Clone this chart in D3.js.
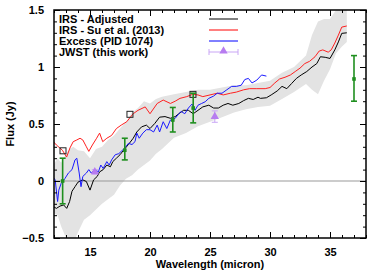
<!DOCTYPE html>
<html>
<head>
<meta charset="utf-8">
<script src="https://cdn.jsdelivr.net/npm/d3@7"></script>
<style>
  body { margin: 0; background: #fff; }
  svg text { font-family: "Liberation Sans", Arial, sans-serif; font-weight: bold; }
</style>
</head>
<body>
<svg id="canvas"></svg>
<script>
// IRS - Su et al. (2013)
const suW = [11.95, 12.2, 12.7, 13.05, 13.33, 13.6, 13.9, 14.17, 14.4, 14.7, 14.9, 15.2, 15.55, 15.8, 16.06, 16.4, 16.8, 17.2, 17.6, 18.06, 18.6, 19.0, 19.6, 20.0, 20.6, 21.1, 21.7, 22.1, 22.5, 23.06, 23.55, 24.0, 24.4, 25.0, 25.6, 26.1, 26.7, 27.2, 27.8, 28.3, 28.9, 29.6, 30.0, 30.4, 30.8, 31.25, 31.7, 32.1, 32.5, 32.9, 33.3, 33.75, 34.1, 34.4, 34.85, 35.1, 35.4, 35.7, 35.98, 36.4]
const suF = [0.345, 0.316, 0.27, 0.21, 0.29, 0.345, 0.36, 0.375, 0.36, 0.30, 0.26, 0.316, 0.375, 0.42, 0.345, 0.375, 0.40, 0.46, 0.49, 0.52, 0.59, 0.62, 0.65, 0.59, 0.68, 0.71, 0.68, 0.70, 0.725, 0.74, 0.76, 0.755, 0.74, 0.755, 0.77, 0.755, 0.77, 0.78, 0.80, 0.81, 0.81, 0.81, 0.82, 0.86, 0.895, 0.91, 0.93, 0.96, 0.99, 1.03, 1.05, 1.09, 1.14, 1.15, 1.13, 1.15, 1.21, 1.28, 1.35, 1.36]

// IRS - Adjusted
const adjW = [11.95, 12.2, 12.5, 12.8, 13.06, 13.3, 13.5, 13.75, 14.0, 14.4, 14.7, 15.0, 15.3, 15.6, 15.8, 16.1, 16.4, 16.7, 16.9, 17.2, 17.5, 17.8, 18.2, 18.6, 18.9, 19.3, 19.7, 20.0, 20.4, 20.8, 21.25, 21.7, 22.1, 22.4, 22.8, 23.2, 23.6, 24.0, 24.4, 24.9, 25.3, 25.7, 26.1, 26.5, 26.9, 27.4, 27.8, 28.2, 28.6, 29.0, 29.2, 29.7, 30.1, 30.6, 31.0, 31.4, 31.8, 32.2, 32.6, 33.06, 33.5, 33.9, 34.2, 34.6, 35.0, 35.4, 35.7, 35.98, 36.4]
const adjF = [-0.225, -0.24, -0.22, -0.21, -0.24, -0.18, -0.09, -0.05, -0.01, 0.01, -0.005, -0.08, 0.01, 0.04, 0.08, 0.10, 0.14, 0.125, 0.17, 0.20, 0.23, 0.27, 0.32, 0.375, 0.43, 0.475, 0.49, 0.46, 0.505, 0.56, 0.565, 0.55, 0.565, 0.59, 0.62, 0.62, 0.59, 0.62, 0.65, 0.665, 0.64, 0.64, 0.665, 0.68, 0.665, 0.68, 0.705, 0.725, 0.715, 0.735, 0.725, 0.73, 0.755, 0.79, 0.83, 0.81, 0.855, 0.90, 0.93, 0.96, 1.0, 1.03, 1.09, 1.085, 1.075, 1.15, 1.22, 1.295, 1.30]

// Excess (PID 1074)
const excW = [11.95, 12.1, 12.3, 12.4, 12.6, 12.9, 13.2, 13.5, 13.75, 13.9, 14.1, 14.25, 14.4, 14.7, 14.9, 15.1, 15.4, 15.7, 15.9, 16.1, 16.4, 16.6, 16.8, 17.1, 17.4, 17.6, 17.9, 18.2, 18.5, 18.75, 18.9, 19.1, 19.4, 19.7, 20.0, 20.3, 20.6, 20.8, 21.1, 21.4, 21.7, 22.1, 22.4, 22.6, 22.9, 23.2, 23.5, 23.75, 24.0, 24.3, 24.6, 24.9, 25.3, 25.6, 26.0, 26.4, 26.8, 27.2, 27.6, 27.9, 28.2, 28.5, 28.9, 29.3, 29.7]
const excF = [0.03, 0.01, -0.18, -0.08, -0.02, 0.02, 0.07, 0.10, 0.185, 0.20, 0.07, -0.05, 0.04, 0.07, 0.10, 0.07, 0.10, 0.08, 0.14, 0.11, 0.17, 0.14, 0.185, 0.23, 0.24, 0.26, 0.29, 0.33, 0.32, 0.345, 0.42, 0.375, 0.42, 0.45, 0.45, 0.43, 0.49, 0.43, 0.52, 0.46, 0.535, 0.55, 0.59, 0.61, 0.59, 0.64, 0.675, 0.62, 0.665, 0.68, 0.695, 0.725, 0.745, 0.77, 0.77, 0.80, 0.83, 0.83, 0.84, 0.89, 0.90, 0.86, 0.885, 0.93, 0.92]

// grey uncertainty band around the adjusted spectrum
const bandW = [11.95, 12.3, 12.6, 13.0, 13.3, 13.6, 14.0, 14.5, 15.0, 15.5, 16.0, 16.5, 17.0, 17.5, 18.0, 18.5, 19.0, 19.5, 20.0, 20.5, 21.0, 22.0, 23.0, 24.0, 25.0, 26.0, 27.0, 28.0, 29.0, 30.0, 31.0, 32.0, 33.0, 33.5, 34.0, 34.5, 35.0, 35.5, 36.0, 36.4]
const bandHi = [0.14, 0.20, 0.16, 0.24, 0.28, 0.30, 0.27, 0.26, 0.20, 0.28, 0.30, 0.36, 0.40, 0.46, 0.52, 0.60, 0.64, 0.70, 0.68, 0.72, 0.74, 0.76, 0.78, 0.80, 0.80, 0.82, 0.84, 0.84, 0.86, 0.88, 0.95, 1.0, 1.10, 1.28, 1.40, 1.42, 1.42, 1.50, 1.55, 1.55]
const bandLo = [-0.28, -0.30, -0.40, -0.50, -0.55, -0.55, -0.45, -0.34, -0.30, -0.25, -0.20, -0.16, -0.12, -0.04, 0.02, 0.05, 0.10, 0.14, 0.18, 0.24, 0.28, 0.38, 0.42, 0.48, 0.52, 0.56, 0.60, 0.63, 0.65, 0.66, 0.72, 0.78, 0.85, 0.80, 0.76, 0.88, 0.98, 1.12, 1.18, 1.22]

// green photometry with error bars
const photW = [12.72, 17.9, 21.9, 23.6, 37.0]
const photF = [0.0, 0.27, 0.535, 0.64, 0.895]
const photLo = [-0.20, 0.185, 0.43, 0.51, 0.70]
const photHi = [0.20, 0.375, 0.645, 0.77, 1.10]

// open squares on the Su et al. spectrum
const sqW = [12.75, 18.33, 23.58]
const sqF = [0.265, 0.585, 0.76]

// JWST (this work)
const jwstW = [15.4, 25.4]
const jwstF = [0.08, 0.565]
const jwstErr = [0.02, 0.05]

const xTicks = [15, 20, 25, 30, 35]
const yTicks = [-0.5, 0, 0.5, 1, 1.5]
const legendLabels = ['IRS - Adjusted', 'IRS - Su et al. (2013)', 'Excess (PID 1074)', 'JWST (this work)']
const legendColors = ['#000000', '#ff0000', '#0000ff', '#b77cf0']

let width = 390,
height = 273
let margin = {left: 54, right: 24, top: 10, bottom: 35}

let canvas = d3.select('#canvas')
  .attr('width', width)
  .attr('height', height)

let x = d3.scaleLinear().domain([12, 38]).range([margin.left, width - margin.right])
let y = d3.scaleLinear().domain([-0.5, 1.5]).range([height - margin.bottom, margin.top])

canvas.append('clipPath').attr('id', 'clip')
  .append('rect')
  .attr('x', x(12)).attr('y', y(1.5))
  .attr('width', x(38) - x(12)).attr('height', y(-0.5) - y(1.5))

let plot = canvas.append('g').attr('clip-path', 'url(#clip)')

// band
let area = d3.area()
  .x((d, i) => x(bandW[i]))
  .y0((d, i) => y(bandLo[i]))
  .y1((d, i) => y(bandHi[i]))
plot.append('path')
  .datum(bandW)
  .attr('d', area)
  .attr('fill', '#e3e3e3')

// zero line
plot.append('line')
  .attr('x1', x(12)).attr('x2', x(38))
  .attr('y1', y(0)).attr('y2', y(0))
  .attr('stroke', '#999').attr('stroke-width', 1)

let line = d3.line().x(d => x(d[0])).y(d => y(d[1]))

let drawSeries = (ws, fs, color) => {
  plot.append('path')
    .datum(ws.map((w, i) => [w, fs[i]]))
    .attr('d', line)
    .attr('fill', 'none')
    .attr('stroke', color)
    .attr('stroke-width', 1)
}
drawSeries(suW, suF, '#ff2020')
drawSeries(adjW, adjF, '#000')
drawSeries(excW, excF, '#1a1aff')

// JWST triangles
let tri = d3.symbol().type(d3.symbolTriangle).size(30)
jwstW.forEach((w, i) => {
  let g = plot.append('g').attr('stroke', '#c9a6f5').attr('stroke-width', 1)
  g.append('line').attr('x1', x(w)).attr('x2', x(w)).attr('y1', y(jwstF[i] - jwstErr[i])).attr('y2', y(jwstF[i] + jwstErr[i]))
  g.append('line').attr('x1', x(w) - 3).attr('x2', x(w) + 3).attr('y1', y(jwstF[i] - jwstErr[i])).attr('y2', y(jwstF[i] - jwstErr[i]))
  g.append('line').attr('x1', x(w) - 3).attr('x2', x(w) + 3).attr('y1', y(jwstF[i] + jwstErr[i])).attr('y2', y(jwstF[i] + jwstErr[i]))
  plot.append('path').attr('d', tri)
    .attr('transform', `translate(${x(w)},${y(jwstF[i])})`)
    .attr('fill', '#b77cf0')
})

// squares
plot.selectAll('rect.sq')
  .data(sqW)
  .enter().append('rect')
  .attr('class', 'sq')
  .attr('x', (d, i) => x(d) - 3)
  .attr('y', (d, i) => y(sqF[i]) - 3)
  .attr('width', 6).attr('height', 6)
  .attr('fill', 'none')
  .attr('stroke', '#222').attr('stroke-width', 1)

// green error bars
photW.forEach((w, i) => {
  let g = plot.append('g').attr('stroke', '#1f8f1f').attr('stroke-width', 1.6)
  g.append('line').attr('x1', x(w)).attr('x2', x(w)).attr('y1', y(photLo[i])).attr('y2', y(photHi[i]))
  g.append('line').attr('x1', x(w) - 3).attr('x2', x(w) + 3).attr('y1', y(photLo[i])).attr('y2', y(photLo[i]))
  g.append('line').attr('x1', x(w) - 3).attr('x2', x(w) + 3).attr('y1', y(photHi[i])).attr('y2', y(photHi[i]))
  plot.append('rect')
    .attr('x', x(w) - 1.8).attr('y', y(photF[i]) - 1.8)
    .attr('width', 3.6).attr('height', 3.6)
    .attr('fill', '#1f8f1f')
})

// axes, ticks inward on all four sides
let addAxis = (axis, transform) => {
  let g = canvas.append('g').attr('transform', transform).call(axis)
  g.select('.domain').remove()
  g.selectAll('text').attr('font-size', 11).attr('fill', '#000')
  g.selectAll('line').attr('stroke', '#000')
  return g
}
let xMinor = d3.range(12, 38.01, 1)
let yMinor = d3.range(-0.5, 1.501, 0.1)

addAxis(d3.axisBottom(x).tickValues(xMinor).tickSize(-3).tickFormat(''), `translate(0,${y(-0.5)})`)
addAxis(d3.axisTop(x).tickValues(xMinor).tickSize(-3).tickFormat(''), `translate(0,${y(1.5)})`)
addAxis(d3.axisLeft(y).tickValues(yMinor).tickSize(-3).tickFormat(''), `translate(${x(12)},0)`)
addAxis(d3.axisRight(y).tickValues(yMinor).tickSize(-3).tickFormat(''), `translate(${x(38)},0)`)

addAxis(d3.axisBottom(x).tickValues(xTicks).tickSize(-6).tickPadding(10), `translate(0,${y(-0.5)})`)
addAxis(d3.axisTop(x).tickValues(xTicks).tickSize(-6).tickFormat(''), `translate(0,${y(1.5)})`)
addAxis(d3.axisLeft(y).tickValues(yTicks).tickSize(-6).tickPadding(10).tickFormat(d3.format('')), `translate(${x(12)},0)`)
addAxis(d3.axisRight(y).tickValues(yTicks).tickSize(-6).tickFormat(''), `translate(${x(38)},0)`)

canvas.append('rect')
  .attr('x', x(12)).attr('y', y(1.5))
  .attr('width', x(38) - x(12)).attr('height', y(-0.5) - y(1.5))
  .attr('fill', 'none').attr('stroke', '#000').attr('stroke-width', 1.5)

// legend
let legend = canvas.append('g')
legendLabels.forEach((label, i) => {
  let ly = 19 + i * 11
  legend.append('text')
    .attr('x', 59).attr('y', ly + 4)
    .attr('font-size', 11)
    .text(label)
  if (i < 3) {
    legend.append('line')
      .attr('x1', 209).attr('x2', 238).attr('y1', ly).attr('y2', ly)
      .attr('stroke', legendColors[i]).attr('stroke-width', 1)
  } else {
    let g = legend.append('g').attr('stroke', '#c9a6f5').attr('stroke-width', 1)
    g.append('line').attr('x1', 209).attr('x2', 238).attr('y1', ly).attr('y2', ly)
    g.append('line').attr('x1', 209).attr('x2', 209).attr('y1', ly - 3).attr('y2', ly + 3)
    g.append('line').attr('x1', 238).attr('x2', 238).attr('y1', ly - 3).attr('y2', ly + 3)
    legend.append('path').attr('d', tri)
      .attr('transform', `translate(223.5,${ly - 1})`)
      .attr('fill', legendColors[i])
  }
})

// axis titles
canvas.append('text')
  .attr('x', (x(12) + x(38)) / 2).attr('y', 268)
  .attr('text-anchor', 'middle').attr('font-size', 11)
  .text('Wavelength (micron)')
canvas.append('text')
  .attr('transform', `translate(14,${(y(-0.5) + y(1.5)) / 2}) rotate(-90)`)
  .attr('text-anchor', 'middle').attr('font-size', 11)
  .text('Flux (Jy)')
</script>
</body>
</html>
